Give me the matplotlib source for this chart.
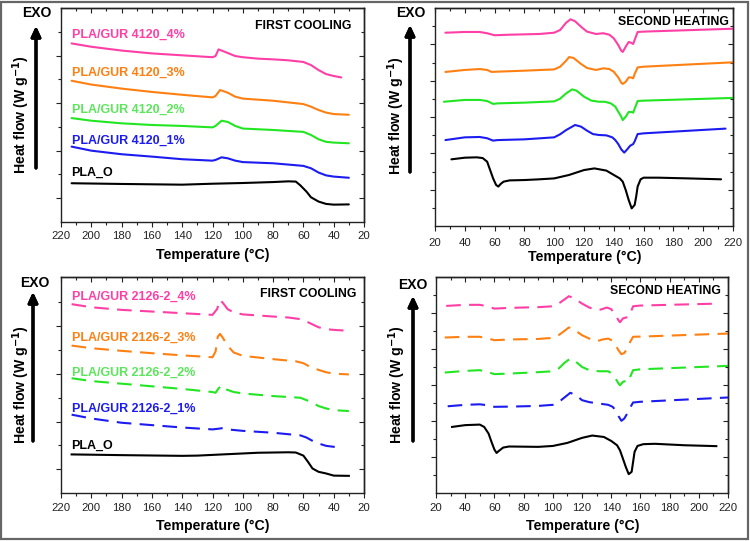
import matplotlib
matplotlib.use("Agg")
import matplotlib.pyplot as plt
from matplotlib.patches import Rectangle
from matplotlib.ticker import MultipleLocator, FixedLocator, NullFormatter

plt.rcParams['font.family'] = ['Liberation Sans', 'DejaVu Sans']

# ---------------- DATA ----------------
# Panel A: first cooling, GUR 4120 (solid)
c1_pink_T = [213,200,180,160,140,120,118,116,112,105,100,90,80,70,60,55,50,45,40,35]
c1_pink_H = [7.51,7.37,7.21,7.09,7.01,6.93,6.98,7.26,7.16,6.98,6.93,6.87,6.84,6.80,6.73,6.60,6.39,6.22,6.14,6.08]
c1_orange_T = [213,200,180,160,140,120,118,115,110,105,100,80,60,55,50,45,40,30]
c1_orange_H = [5.94,5.78,5.61,5.47,5.35,5.24,5.30,5.55,5.44,5.27,5.19,5.10,4.96,4.85,4.71,4.60,4.54,4.51]
c1_green_T = [213,200,180,160,140,120,118,114,110,105,100,80,60,55,50,45,40,30]
c1_green_H = [4.37,4.26,4.15,4.08,4.04,3.98,4.04,4.26,4.21,4.04,3.93,3.87,3.79,3.66,3.48,3.37,3.34,3.31]
c1_blue_T = [213,200,180,160,140,120,118,114,110,105,100,80,60,55,50,45,40,30]
c1_blue_H = [3.17,3.00,2.85,2.75,2.64,2.58,2.61,2.72,2.68,2.58,2.52,2.47,2.36,2.26,2.08,1.96,1.91,1.86]
c1_black_T = [213,180,140,120,100,80,70,65,62,58,55,50,45,40,30]
c1_black_H = [1.63,1.60,1.57,1.61,1.64,1.68,1.71,1.70,1.54,1.28,1.04,0.86,0.76,0.73,0.74]

# Panel B: second heating, GUR 4120 (solid)
h1_pink_T = [27,40,50,55,60,70,90,100,104,108,111,114,118,122,128,133,137,140,143,145,146,148,150,151.5,153,154,156,160,220]
h1_pink_H = [10.64,10.68,10.68,10.61,10.50,10.53,10.57,10.64,10.79,11.19,11.38,11.27,10.97,10.70,10.57,10.61,10.53,10.33,9.96,9.65,9.58,9.87,10.13,10.09,10.02,10.24,10.68,10.70,10.86]
h1_orange_T = [27,40,50,55,58,60,80,100,104,108,110,113,118,122,128,133,137,140,143,145,146,148,150,151.5,153,154,156,160,220]
h1_orange_H = [8.48,8.59,8.64,8.59,8.48,8.49,8.55,8.62,8.77,9.10,9.30,9.25,8.92,8.70,8.59,8.68,8.64,8.49,8.18,7.89,7.82,7.94,8.18,8.18,8.13,8.37,8.73,8.77,9.01]
h1_green_T = [26,40,50,55,59,62,80,100,104,108,112,115,120,125,130,134,138,141,143,145,146,148,150,151.5,153,154,156,160,220]
h1_green_H = [6.84,6.94,6.94,6.88,6.72,6.75,6.79,6.86,7.01,7.30,7.52,7.45,7.12,6.90,6.84,6.84,6.75,6.57,6.29,6.02,5.83,6.02,6.28,6.28,6.24,6.46,6.88,6.90,7.05]
h1_blue_T = [27,40,50,55,59,62,80,100,104,108,114,118,122,126,130,135,139,141,143,145,147,149,151,153,154,156,160,215]
h1_blue_H = [4.73,4.88,4.90,4.83,4.70,4.73,4.77,4.88,5.05,5.28,5.56,5.47,5.25,5.06,5.01,4.99,4.88,4.73,4.51,4.22,4.04,4.22,4.42,4.51,4.66,5.06,5.10,5.36]
h1_black_T = [31,40,48,52,55,57,59,61,62.5,64,66,70,80,90,100,110,120,127,135,140,144,146,148,150,152,154,155,156,158,160,170,190,212]
h1_black_H = [3.67,3.76,3.78,3.74,3.54,3.08,2.62,2.26,2.17,2.31,2.44,2.51,2.53,2.57,2.62,2.81,3.08,3.17,3.05,2.81,2.62,2.44,1.98,1.43,0.97,1.16,1.61,2.17,2.57,2.66,2.66,2.62,2.57]

# Panel C: first cooling, GUR 2126-2 (dashed)
c2_pink_T = [213,200,180,160,140,120,117,115,113,110,106,100,80,70,62,58,54,50,45,40,30]
c2_pink_H = [7.93,7.80,7.69,7.62,7.55,7.48,7.72,8.11,7.97,7.72,7.58,7.50,7.41,7.37,7.30,7.20,7.08,6.96,6.88,6.85,6.81]
c2_orange_T = [213,200,180,160,140,120,118,116.5,115,113,110,106,100,80,65,60,55,50,45,40,30]
c2_orange_H = [6.19,6.08,5.97,5.87,5.78,5.70,5.94,6.57,6.68,6.50,6.18,5.90,5.76,5.62,5.53,5.45,5.28,5.17,5.07,5.01,4.98]
c2_green_T = [213,200,180,160,140,120,118,116,114,111,106,100,80,62,58,54,50,45,40,30]
c2_green_H = [4.82,4.70,4.59,4.48,4.37,4.24,4.21,4.39,4.52,4.35,4.24,4.18,4.07,4.00,3.90,3.79,3.65,3.55,3.48,3.44]
c2_blue_T = [213,200,180,160,140,120,116,114,110,100,80,62,58,54,50,45,40,35]
c2_blue_H = [3.29,3.13,2.95,2.85,2.75,2.67,2.70,2.72,2.67,2.61,2.53,2.42,2.33,2.19,2.08,1.98,1.94,1.90]
c2_black_T = [213,180,140,130,110,90,70,65,60,57,54,50,45,40,30]
c2_black_H = [1.62,1.59,1.56,1.57,1.63,1.69,1.71,1.70,1.57,1.31,1.03,0.89,0.82,0.73,0.72]

# Panel D: second heating, GUR 2126-2 (dashed)
h2_pink_T = [27,40,50,55,60,70,90,100,104,108,111,115,120,125,130,133,137,140,143,145,146,148,150,152,153,155,160,214]
h2_pink_H = [10.42,10.48,10.48,10.40,10.27,10.31,10.35,10.40,10.55,10.78,10.96,10.83,10.55,10.33,10.18,10.22,10.33,10.24,9.90,9.62,9.51,9.72,9.77,9.81,10.00,10.40,10.44,10.55]
h2_orange_T = [26,40,50,55,60,70,90,100,104,108,111,115,120,125,130,134,138,141,143,145,147,149,151,153,155,160,220]
h2_orange_H = [8.66,8.70,8.70,8.62,8.51,8.55,8.58,8.64,8.79,9.03,9.22,9.07,8.79,8.60,8.45,8.55,8.60,8.47,8.23,7.95,7.73,7.80,8.05,8.42,8.70,8.71,8.88]
h2_green_T = [26,40,50,55,60,70,90,100,104,108,112,116,120,125,132,138,141,143,145,146,148,150,152,153,155,160,220]
h2_green_H = [6.71,6.80,6.84,6.75,6.62,6.65,6.73,6.78,6.93,7.25,7.49,7.30,7.02,6.84,6.78,6.78,6.62,6.38,6.10,6.00,6.19,6.24,6.19,6.47,6.84,6.89,7.08]
h2_blue_T = [28,40,50,55,60,70,90,100,104,108,112,116,120,125,132,138,141,143,145,147,149,151,153,155,160,220]
h2_blue_H = [4.83,4.91,4.94,4.89,4.80,4.81,4.85,4.91,5.06,5.32,5.58,5.45,5.17,5.06,4.98,4.91,4.80,4.61,4.28,4.02,4.15,4.43,4.76,5.04,5.08,5.32]
h2_black_T = [31,40,50,53,56,58,60,61.5,63,66,70,90,100,110,120,127,135,140,144,146,148,150,152,154,155,156,158,162,170,190,212]
h2_black_H = [3.68,3.78,3.81,3.68,3.31,2.85,2.42,2.23,2.34,2.53,2.59,2.57,2.62,2.79,3.07,3.20,3.12,2.90,2.66,2.38,1.92,1.45,1.05,1.18,1.73,2.29,2.62,2.72,2.74,2.66,2.61]

labels_4120 = ["PLA/GUR 4120_4%", "PLA/GUR 4120_3%", "PLA/GUR 4120_2%", "PLA/GUR 4120_1%", "PLA_O"]
labels_2126 = ["PLA/GUR 2126-2_4%", "PLA/GUR 2126-2_3%", "PLA/GUR 2126-2_2%", "PLA/GUR 2126-2_1%", "PLA_O"]
label_y_4120 = [7.86, 6.28, 4.71, 3.42, 2.05]
label_y_2126 = [8.23, 6.50, 5.03, 3.55, 1.98]
label_T = 213

line_colors = ['#ff3fa6', '#ff8012', '#22e622', '#1c1cf0', '#000000']
text_colors = ['#ff3fa6', '#ff8012', '#5ce65c', '#1c1cf0', '#000000']

# ---------------- FIGURE ----------------
W, H = 750, 541
fig = plt.figure(figsize=(W / 100, H / 100), dpi=100)


def fx(px):
    return px / W


def fy(py):
    return 1 - py / H


def make_ax(left, right, top, bottom):
    return fig.add_axes([fx(left), fy(bottom), fx(right - left), (bottom - top) / H])


def style_ax(ax, xlim, ylim, ymaj, ymin, pad):
    ax.set_xlim(*xlim)
    ax.set_ylim(*ylim)
    ax.xaxis.set_major_locator(MultipleLocator(20))
    ax.xaxis.set_minor_locator(MultipleLocator(10))
    ax.yaxis.set_major_locator(FixedLocator(ymaj))
    ax.yaxis.set_minor_locator(FixedLocator(ymin))
    ax.yaxis.set_major_formatter(NullFormatter())
    ax.tick_params(which='both', direction='out', labelsize=8.2, labelcolor='#222222',
                   width=0.8, color='#222222')
    ax.tick_params(axis='x', which='both', pad=pad)
    ax.tick_params(which='major', length=3.5)
    ax.tick_params(which='minor', length=2.2)
    for s in ax.spines.values():
        s.set_linewidth(1.0)
        s.set_color('#222222')
    # inward ticks on top and right
    top = ax.secondary_xaxis('top')
    top.xaxis.set_major_locator(MultipleLocator(20))
    top.xaxis.set_minor_locator(MultipleLocator(10))
    top.xaxis.set_major_formatter(NullFormatter())
    right = ax.secondary_yaxis('right')
    right.yaxis.set_major_locator(FixedLocator(ymaj))
    right.yaxis.set_minor_locator(FixedLocator(ymin))
    right.yaxis.set_major_formatter(NullFormatter())
    for sec in (top, right):
        sec.tick_params(which='both', direction='in', width=0.8, color='#222222')
        sec.tick_params(which='major', length=3.5)
        sec.tick_params(which='minor', length=2.2)
        for s in sec.spines.values():
            s.set_linewidth(1.0)
            s.set_color('#222222')


def lines(ax, series, ls):
    for (T, Hh), c in zip(series, line_colors):
        ax.plot(T, Hh, color=c, lw=1.5, ls=ls, solid_capstyle='round')


def axis_labels(ax, xc, yc_x, ylx, yly):
    ax.set_xlabel('Temperature (°C)', fontsize=10.2, fontweight='bold', va='center')
    ax.xaxis.set_label_coords(xc, yc_x)
    ax.set_ylabel('Heat flow (W g$^{\\mathbf{-1}}$)', fontsize=10.2, fontweight='bold', va='center')
    ax.yaxis.set_label_coords(ylx, yly)


def exo(x_text, y_text, x_arr, y_bot, y_top):
    fig.text(fx(x_text), fy(y_text), 'EXO', ha='center', va='center',
             fontsize=10, fontweight='bold')
    fig.add_artist(plt.annotate('', xy=(fx(x_arr), fy(y_top)), xytext=(fx(x_arr), fy(y_bot)),
                                xycoords='figure fraction', textcoords='figure fraction',
                                arrowprops=dict(arrowstyle='-|>,head_length=0.6,head_width=0.28',
                                                lw=2.3, color='black', shrinkA=0, shrinkB=0)))


dash = (0, (7, 4))

# Panel A
axA = make_ax(61, 364, 8, 222)
style_ax(axA, (220, 20), (0, 9), [1, 3, 5, 7], [2, 4, 6, 8], 3.0)
lines(axA, [(c1_pink_T, c1_pink_H), (c1_orange_T, c1_orange_H), (c1_green_T, c1_green_H),
            (c1_blue_T, c1_blue_H), (c1_black_T, c1_black_H)], '-')
for lab, y, c in zip(labels_4120, label_y_4120, text_colors):
    axA.text(label_T, y, lab, color=c, fontsize=9, fontweight='bold', ha='left', va='center')
axA.text(0.957, 0.916, 'FIRST COOLING', transform=axA.transAxes, ha='right', va='center',
         fontsize=8.8, fontweight='bold')
axis_labels(axA, 0.5, -0.154, -0.132, 0.5)

# Panel B
axB = make_ax(435, 733, 8, 226)
style_ax(axB, (20, 220), (0, 12), [2, 4, 6, 8, 10], [1, 3, 5, 7, 9, 11], 5.0)
lines(axB, [(h1_pink_T, h1_pink_H), (h1_orange_T, h1_orange_H), (h1_green_T, h1_green_H),
            (h1_blue_T, h1_blue_H), (h1_black_T, h1_black_H)], '-')
axB.text(0.985, 0.937, 'SECOND HEATING', transform=axB.transAxes, ha='right', va='center',
         fontsize=8.8, fontweight='bold')
axis_labels(axB, 0.503, -0.141, -0.131, 0.509)

# Panel C
axC = make_ax(61, 364, 277, 493)
style_ax(axC, (220, 20), (0, 9.07), [1, 3, 5, 7], [2, 4, 6, 8], 4.0)
lines(axC, [(c2_pink_T, c2_pink_H), (c2_orange_T, c2_orange_H), (c2_green_T, c2_green_H),
            (c2_blue_T, c2_blue_H)], dash)
axC.plot(c2_black_T, c2_black_H, color='black', lw=1.5)
for lab, y, c in zip(labels_2126, label_y_2126, text_colors):
    axC.text(label_T, y, lab, color=c, fontsize=9, fontweight='bold', ha='left', va='center')
axC.text(0.974, 0.922, 'FIRST COOLING', transform=axC.transAxes, ha='right', va='center',
         fontsize=8.8, fontweight='bold')
axis_labels(axC, 0.5, -0.155, -0.132, 0.5)

# Panel D
axD = make_ax(436, 728, 277, 493)
style_ax(axD, (20, 220), (0, 12.03), [2, 4, 6, 8, 10], [1, 3, 5, 7, 9, 11], 4.0)
lines(axD, [(h2_pink_T, h2_pink_H), (h2_orange_T, h2_orange_H), (h2_green_T, h2_green_H),
            (h2_blue_T, h2_blue_H)], dash)
axD.plot(h2_black_T, h2_black_H, color='black', lw=1.5)
axD.text(0.975, 0.935, 'SECOND HEATING', transform=axD.transAxes, ha='right', va='center',
         fontsize=8.8, fontweight='bold')
axis_labels(axD, 0.503, -0.154, -0.133, 0.5)

# EXO arrows
exo(37, 13, 36, 168, 26)
exo(411, 13, 410, 172, 25)
exo(35, 283, 33, 441, 292)
exo(413, 285, 413, 441, 296)

# outer frame
fig.add_artist(Rectangle((0.0015, 0.003), 0.996, 0.994, transform=fig.transFigure,
                         fill=False, edgecolor='#666666', lw=1.6))

fig.savefig('out.png', dpi=100)
